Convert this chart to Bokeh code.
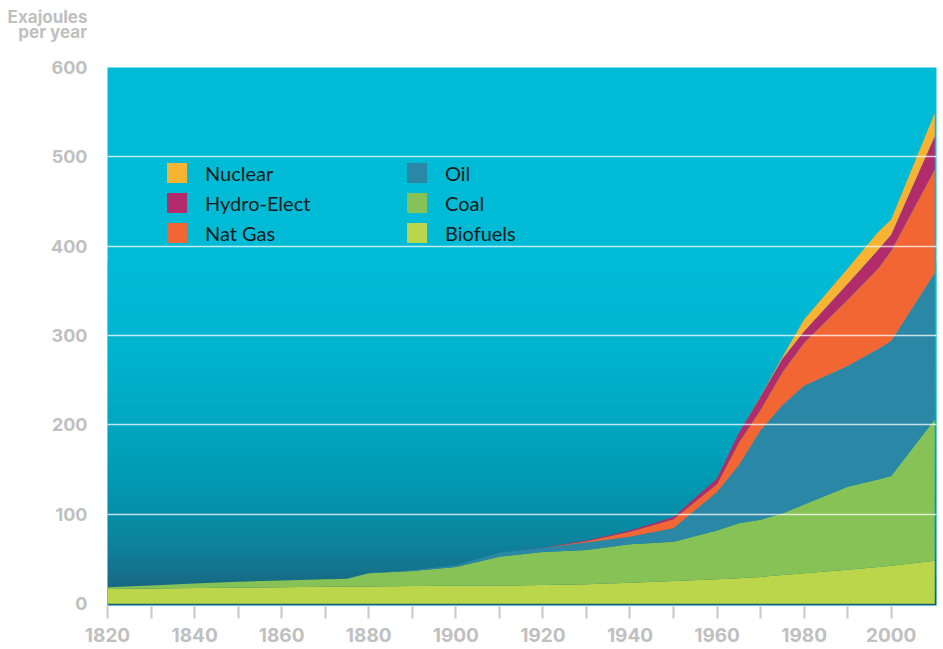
from bokeh.plotting import figure
from bokeh.models import (Range1d, FixedTicker, Legend, LegendItem, BoxAnnotation,
                          Title, ColumnDataSource)
from bokeh.embed import file_html
from bokeh.resources import INLINE

# ---------------- data ----------------
years = [1820, 1830, 1840, 1850, 1860, 1870, 1875, 1880, 1890, 1900, 1910, 1920,
         1930, 1940, 1950, 1960, 1965, 1970, 1975, 1980, 1990, 1997, 2000, 2010]
biofuels = [16.5, 17, 17.5, 18, 18.5, 19, 19.2, 19.4, 19.7, 20, 20.3, 20.8,
            21.8, 23.5, 25.5, 27.5, 28.5, 30, 32, 34, 38, 41, 42.5, 48]
coal = [2, 3.5, 5, 6.5, 7.5, 8.5, 8.8, 14.6, 16.8, 21, 32.2, 37.2,
        38.2, 43, 43.8, 54.5, 61.5, 64, 69, 77, 93, 98, 100.5, 158]
oil = [0, 0, 0, 0, 0, 0, 0.1, 0.5, 1, 2, 4.5, 4.5,
       8.5, 8.5, 15.2, 43, 65, 100, 121, 133, 135, 146, 151, 164]
nat_gas = [0, 0, 0, 0, 0, 0, 0, 0, 0, 0, 0, 0.1,
           1.5, 5.5, 10, 9, 25, 23, 37, 48, 74, 90, 101, 116]
hydro = [0, 0, 0, 0, 0, 0, 0, 0, 0, 0, 0, 0.4,
         0.8, 1.5, 2.5, 6, 11, 15, 15, 13, 18, 21, 18, 37]
nuclear = [0, 0, 0, 0, 0, 0, 0, 0, 0, 0, 0, 0,
           0, 0, 0, 0, 0, 0.5, 2, 13, 17, 20, 17, 26]

series_names = ["Biofuels", "Coal", "Oil", "Nat Gas", "Hydro-Elect", "Nuclear"]
series_colors = ["#BBD64B", "#86C256", "#2A88A6", "#F26634", "#B22B6B", "#F8B332"]

y_ticks = [0, 100, 200, 300, 400, 500, 600]
x_major_ticks = [1820, 1840, 1860, 1880, 1900, 1920, 1940, 1960, 1980, 2000]
x_minor_ticks = [1830, 1850, 1870, 1890, 1910, 1930, 1950, 1970, 1990]
# second line padded with no-break / thin spaces so both lines end at the same edge
y_title = "Exajoules\n\u00a0\u00a0\u2009per year"

# background gradient stops (value -> colour), decoration only
grad_vals = [-2, 30, 60, 100, 150, 220, 300, 380]
grad_cols = ["#175C74", "#166E88", "#0F7F99", "#058EA7", "#009CB5", "#00AAC4",
             "#00B6D1", "#00BBD6"]

# ---------------- figure ----------------
p = figure(width=943, height=649, output_backend="svg", toolbar_location=None,
           x_range=Range1d(1820, 2010.4), y_range=Range1d(-2, 600),
           min_border_left=107, min_border_right=7, min_border_top=67,
           min_border_bottom=44)
p.outline_line_color = None
p.background_fill_color = "#00BBD6"
p.border_fill_color = "white"


def hex2rgb(h):
    h = h.lstrip("#")
    return tuple(int(h[i:i + 2], 16) for i in (0, 2, 4))


def interp_col(v):
    for i in range(len(grad_vals) - 1):
        a, b = grad_vals[i], grad_vals[i + 1]
        if a <= v <= b:
            t = (v - a) / (b - a)
            c1, c2 = hex2rgb(grad_cols[i]), hex2rgb(grad_cols[i + 1])
            return "#%02x%02x%02x" % tuple(int(round(c1[k] + (c2[k] - c1[k]) * t)) for k in range(3))
    return grad_cols[-1]


band = 4
v = grad_vals[0]
while v < grad_vals[-1]:
    p.add_layout(BoxAnnotation(bottom=v, top=v + band + 0.6, fill_color=interp_col(v + band / 2),
                               fill_alpha=1.0, line_color=None, level="underlay"))
    v += band

source = ColumnDataSource(dict(year=years, Biofuels=biofuels, Coal=coal, Oil=oil,
                               **{"Nat Gas": nat_gas, "Hydro-Elect": hydro, "Nuclear": nuclear}))
rs = p.varea_stack(stackers=series_names, x="year", color=series_colors, source=source)
rmap = dict(zip(series_names, rs))

# grid
p.xgrid.visible = False
p.ygrid.ticker = FixedTicker(ticks=y_ticks[1:])
p.ygrid.grid_line_color = "white"
p.ygrid.grid_line_alpha = 0.75
p.ygrid.grid_line_width = 1.5
p.ygrid.level = "overlay"

label_font = "Inter"
grey = "#C0C0C0"

# y axis
p.yaxis.ticker = FixedTicker(ticks=y_ticks)
p.yaxis.axis_line_color = None
p.yaxis.major_tick_line_color = None
p.yaxis.minor_tick_line_color = None
p.yaxis.major_tick_out = 0
p.yaxis.major_tick_in = 0
p.yaxis.major_label_standoff = 20
p.yaxis.major_label_text_font = label_font
p.yaxis.major_label_text_font_style = "bold"
p.yaxis.major_label_text_font_size = "18px"
p.yaxis.major_label_text_color = grey

# x axis
p.xaxis.ticker = FixedTicker(ticks=x_major_ticks, minor_ticks=x_minor_ticks)
p.xaxis.axis_line_color = None
p.xaxis.major_tick_line_color = "#C8C8C8"
p.xaxis.major_tick_line_width = 2
p.xaxis.major_tick_out = 13
p.xaxis.major_tick_in = 0
p.xaxis.minor_tick_line_color = "#C8C8C8"
p.xaxis.minor_tick_line_width = 2
p.xaxis.minor_tick_out = 13
p.xaxis.minor_tick_in = 0
p.xaxis.major_label_standoff = 9
p.xaxis.major_label_text_font = label_font
p.xaxis.major_label_text_font_style = "bold"
p.xaxis.major_label_text_font_size = "19px"
p.xaxis.major_label_text_color = grey

# axis title (top-left): outer title panel holds the text, an inner spacer
# panel sits between it and the frame
p.title.text = y_title
p.title.align = "right"
p.title.offset = 849
p.title.vertical_align = "top"
p.title.standoff = 8
p.title.text_line_height = 0.78
p.title.text_font = label_font
p.title.text_font_style = "bold"
p.title.text_font_size = "17px"
p.title.text_color = grey
p.add_layout(Title(text=" ", text_font_size="10px", standoff=6), "above")


# legends
def make_legend(names, loc):
    leg = Legend(items=[LegendItem(label=n, renderers=[rmap[n]]) for n in names],
                 location=loc, orientation="vertical")
    leg.glyph_width = 25
    leg.glyph_height = 25
    leg.label_height = 20
    leg.spacing = 5
    leg.padding = 0
    leg.margin = 0
    leg.label_standoff = 16
    leg.border_line_color = None
    leg.background_fill_alpha = 0
    leg.label_text_font = "Lato"
    leg.label_text_font_size = "20px"
    leg.label_text_color = "#1A1A1A"
    return leg


p.add_layout(make_legend(["Nuclear", "Hydro-Elect", "Nat Gas"], (57, 360)))
p.add_layout(make_legend(["Oil", "Coal", "Biofuels"], (297, 360)))

open("out.html", "w").write(file_html(p, INLINE))
